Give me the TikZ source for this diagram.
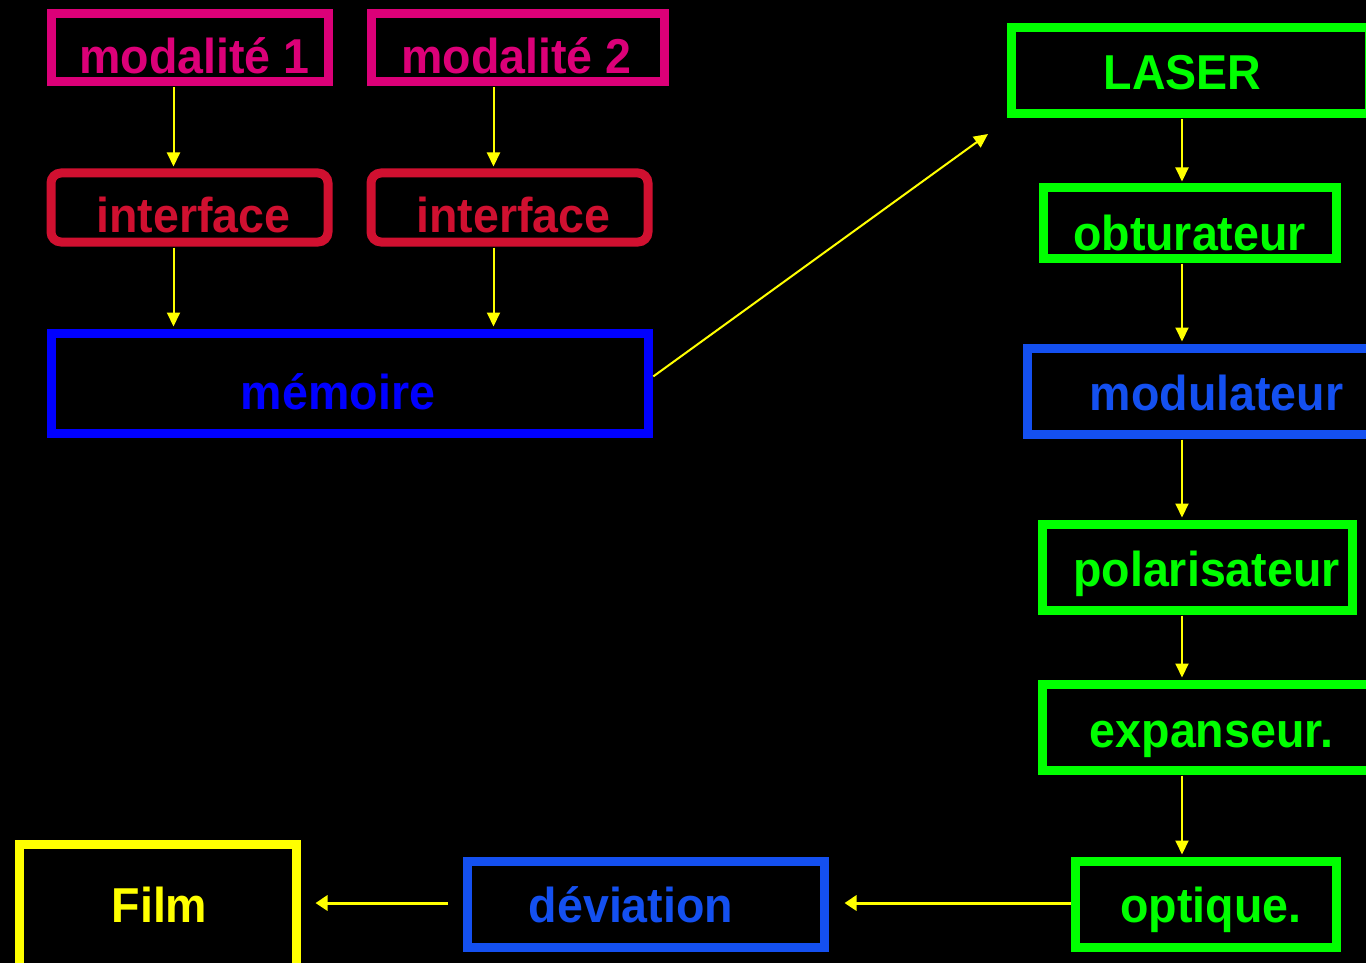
\documentclass[tikz,border=0pt]{standalone}
\usepackage{fontspec}
\setmainfont{Liberation Sans}[FakeStretch=0.95]
\usetikzlibrary{arrows.meta}
\definecolor{mag}{HTML}{DC0078}
\definecolor{crim}{HTML}{D01030}
\definecolor{memblue}{HTML}{0000FF}
\definecolor{grn}{HTML}{00FF00}
\definecolor{blutwo}{HTML}{1450F0}
\definecolor{yel}{HTML}{FFFF00}
\tikzset{
  box/.style={draw=#1, line width=9pt, fill=none, inner sep=0pt},
  lbl/.style={text=#1, anchor=base, inner sep=0pt, font=\fontsize{49}{55}\selectfont\bfseries},
  arr/.style={draw=yel, line width=2pt, -{Triangle[length=14pt,width=13pt]}, shorten >=2pt, shorten <=1pt},
  harr/.style={draw=yel, line width=3pt, -{Triangle[length=12pt,width=15pt]}}
}
\begin{document}
\begin{tikzpicture}[x=1pt,y=-1pt]
\fill[black] (0,0) rectangle (1366,963);
\useasboundingbox (0,0) rectangle (1366,963);
\begin{scope}
\clip (0,0) rectangle (1366,963);
% boxes
\node[box=mag, minimum width=277pt, minimum height=68pt] (m1) at (189.5,48) {};
\node[box=mag, minimum width=293pt, minimum height=68pt] (m2) at (517.5,48) {};
\node[box=crim, rounded corners=10pt, minimum width=277pt, minimum height=69pt] (i1) at (189.5,207.5) {};
\node[box=crim, rounded corners=10pt, minimum width=277pt, minimum height=69pt] (i2) at (509.5,207.5) {};
\node[box=memblue, minimum width=597pt, minimum height=100pt] (mem) at (349.5,383) {};
\node[box=grn, minimum width=358pt, minimum height=86pt] (laser) at (1190,71) {};
\node[box=grn, minimum width=293pt, minimum height=70pt] (obt) at (1189.5,223) {};
\node[box=blutwo, minimum width=343pt, minimum height=86pt] (mod) at (1198.5,391) {};
\node[box=grn, minimum width=310pt, minimum height=86pt] (pol) at (1197,567) {};
\node[box=grn, minimum width=328pt, minimum height=86pt] (exp) at (1206,727) {};
\node[box=grn, minimum width=261pt, minimum height=86pt] (opt) at (1205.5,904) {};
\node[box=blutwo, minimum width=357pt, minimum height=86pt] (dev) at (645.5,904) {};
\node[box=yel, minimum width=277pt, minimum height=124pt] (film) at (157.5,906) {};
\end{scope}
% labels
\node[lbl=mag] (m1t) at (194.5,74) {modalité 1};
\node[lbl=mag] (m2t) at (516.5,74) {modalité 2};
\node[lbl=crim] (i1t) at (193.5,233) {interface};
\node[lbl=crim] (i2t) at (513.5,233) {interface};
\node[lbl=memblue] (memt) at (338,409) {mémoire};
\node[lbl=grn] (lasert) at (1182.5,90) {LASER};
\node[lbl=grn] (obtt) at (1189.5,250) {obturateur};
\node[lbl=blutwo] (modt) at (1216.5,410) {modulateur};
\node[lbl=grn] (polt) at (1206.5,586) {polarisateur};
\node[lbl=grn] (expt) at (1211.5,747) {expanseur.};
\node[lbl=grn] (optt) at (1211,922) {optique.};
\node[lbl=blutwo] (devt) at (631,922) {déviation};
\node[lbl=yel] (filmt) at (159.5,922) {Film};
% connector columns
\coordinate (ca) at (173.5,0);
\coordinate (cb) at (493.5,0);
\coordinate (cr) at (1182,0);
\coordinate (lasin) at (988,134);
% connectors
\draw[arr] (m1.south -| ca) -- (i1.north -| ca);
\draw[arr] (m2.south -| cb) -- (i2.north -| cb);
\draw[arr] (i1.south -| ca) -- (mem.north -| ca);
\draw[arr] (i2.south -| cb) -- (mem.north -| cb);
\draw[arr, shorten >=0pt] ([yshift=6pt]mem.east) -- (lasin);
\draw[arr] (laser.south -| cr) -- (obt.north -| cr);
\draw[arr] (obt.south -| cr) -- (mod.north -| cr);
\draw[arr] (mod.south -| cr) -- (pol.north -| cr);
\draw[arr] (pol.south -| cr) -- (exp.north -| cr);
\draw[arr] (exp.south -| cr) -- (opt.north -| cr);
\draw[harr, shorten >=16pt] ([yshift=1pt]opt.west) -- ([yshift=1pt]dev.east);
\draw[harr, shorten >=15pt, shorten <=15pt] ([yshift=1pt]dev.west) -- ([yshift=1pt]film.east |- dev.west);
\end{tikzpicture}
\end{document}
